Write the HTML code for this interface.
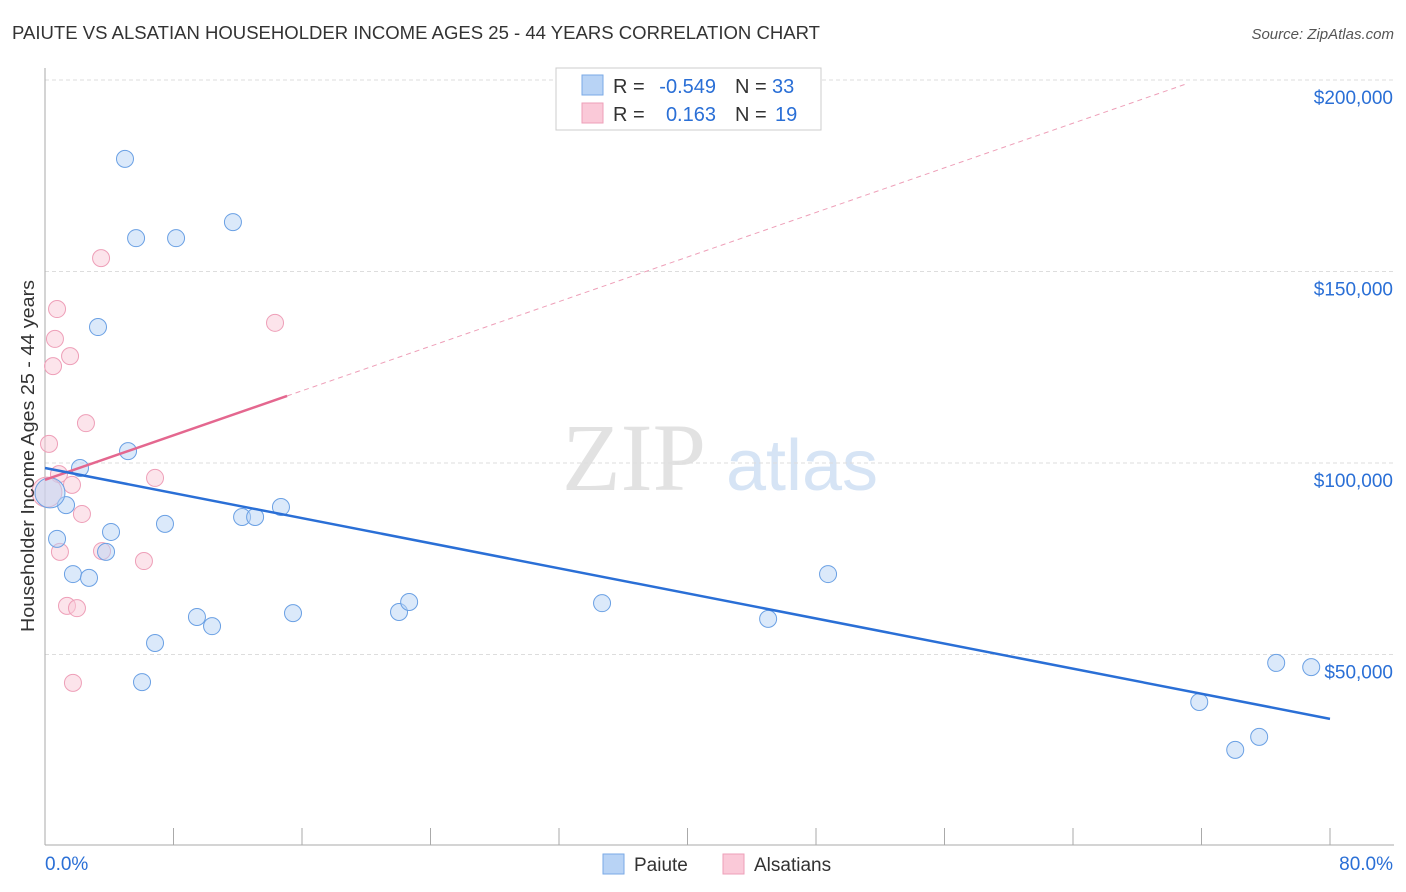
<!DOCTYPE html>
<html><head><meta charset="utf-8"><style>
body{margin:0;background:#fff;font-family:"Liberation Sans",sans-serif;}
</style></head><body>
<svg id="chart" width="1406" height="892" xmlns="http://www.w3.org/2000/svg" style="display:block">
<text x="12" y="39" font-size="18" fill="#333" textLength="808" lengthAdjust="spacingAndGlyphs">PAIUTE VS ALSATIAN HOUSEHOLDER INCOME AGES 25 - 44 YEARS CORRELATION CHART</text>
<text x="1394" y="39" font-size="15" fill="#555" text-anchor="end" font-style="italic">Source: ZipAtlas.com</text>
<g>
<text x="634" y="490" font-size="96" fill="#e2e2e2" font-family="Liberation Serif, serif" text-anchor="middle">ZIP</text>
<text x="802" y="490" font-size="72" fill="#d6e4f5" text-anchor="middle">atlas</text>
</g>
<g id="grid"></g>
<g id="axes"></g>
<g id="marks"></g>
<g>
<rect x="556" y="68" width="265" height="62" fill="#fff" stroke="#ccc"/>
<rect x="582" y="75" width="21" height="20" fill="#b8d3f5" stroke="#7aa9e6"/>
<rect x="582" y="103" width="21" height="20" fill="#fac9d8" stroke="#ee9fb8"/>
<text x="613" y="93" font-size="20" fill="#333">R =</text>
<text x="716" y="93" font-size="20" fill="#2a6fd6" text-anchor="end">-0.549</text>
<text x="735" y="93" font-size="20" fill="#333">N =</text>
<text x="772" y="93" font-size="20" fill="#2a6fd6">33</text>
<text x="613" y="121" font-size="20" fill="#333">R =</text>
<text x="716" y="121" font-size="20" fill="#2a6fd6" text-anchor="end">0.163</text>
<text x="735" y="121" font-size="20" fill="#333">N =</text>
<text x="775" y="121" font-size="20" fill="#2a6fd6">19</text>
</g>
<g>
<rect x="603" y="854" width="21" height="20" fill="#b8d3f5" stroke="#7aa9e6"/>
<text x="634" y="871" font-size="19" fill="#333">Paiute</text>
<rect x="723" y="854" width="21" height="20" fill="#fac9d8" stroke="#ee9fb8"/>
<text x="754" y="871" font-size="19" fill="#333">Alsatians</text>
</g>
<text transform="translate(34,456) rotate(-90)" font-size="18" fill="#333" text-anchor="middle" textLength="352" lengthAdjust="spacingAndGlyphs">Householder Income Ages 25 - 44 years</text>
</svg>
<script>
const yTicks=[50000,100000,150000,200000];
const yTickLabels=["$50,000","$100,000","$150,000","$200,000"];
const blueX=[4.98,5.67,8.16,11.7,3.3,5.17,2.18,1.31,0.31,0.75,4.11,3.8,1.74,2.74,7.47,12.27,13.08,14.69,6.85,6.04,9.46,10.4,15.44,22.04,22.67,34.68,45.02,48.75,71.86,74.1,75.59,76.65,78.83];
const blueY=[179400,158700,158700,162900,135500,103100,98700,89000,92200,80200,82000,76800,71000,70000,84100,85900,85900,88500,53000,42800,59800,57400,60800,61100,63700,63400,59300,71000,37600,25100,28500,47800,46700];
const pinkX=[3.49,0.75,0.62,1.56,0.5,14.32,2.55,0.25,0.87,6.85,1.68,0.12,2.3,0.93,3.55,6.16,1.37,1.99,1.74];
const pinkY=[153500,140200,132400,127900,125300,136600,110400,105000,97100,96100,94300,92400,86700,76800,77000,74400,62700,62100,42600];
const blueTrend=[[0,98700],[80,33200]];
const pinkSolid=[[0,95600],[15.07,117500]];
const pinkDash=[[15.07,117500],[71,198900]];
const NS="http://www.w3.org/2000/svg";
function xs(p){return 45+p*(1330-45)/80;}
function ys(v){return 463-(v-100000)*191.5/50000;}
function mk(t,a,parent){const e=document.createElementNS(NS,t);for(const k in a)e.setAttribute(k,a[k]);parent.appendChild(e);return e;}
const grid=document.getElementById('grid'),axes=document.getElementById('axes'),marks=document.getElementById('marks');
yTicks.forEach((v,i)=>{
const l=mk('line',{x1:45,x2:1394,y1:ys(v),y2:ys(v),stroke:'#ddd','stroke-dasharray':'4 3'},grid);


const t=mk('text',{x:1393,y:ys(v)+24,'font-size':19,fill:'#2a6fd6','text-anchor':'end'},axes);
t.textContent=yTickLabels[i];


});
const xa=mk('line',{x1:45,x2:1394,y1:845,y2:845,stroke:'#aaa'},axes);


const ya=mk('line',{x1:45,x2:45,y1:68,y2:845,stroke:'#aaa'},axes);


for(let p=0;p<=80;p+=8){const t=mk('line',{x1:xs(p),x2:xs(p),y1:828,y2:845,stroke:'#aaa'},axes);

}
[['0.0%',45,'start'],['80.0%',1393,'end']].forEach(a=>{const t=mk('text',{x:a[1],y:870,'font-size':19,fill:'#2a6fd6','text-anchor':a[2]},axes);t.textContent=a[0];

});
function pts(X,Y,fill,stroke,name){X.forEach((x,i)=>{const big=x<0.5&&Y[i]>90000&&Y[i]<94000;
const c=mk('circle',{cx:xs(x),cy:ys(Y[i]),r:big?15:8.5,fill:fill,'fill-opacity':0.5,stroke:stroke,'stroke-width':1},marks);

});}
pts(pinkX,pinkY,'#fac9d8','#ee9fb8','alsatians-point');
pts(blueX,blueY,'#b8d3f5','#6aa0e4','paiute-point');
function ln(a,st,w,dash,name){const e=mk('line',{x1:xs(a[0][0]),y1:ys(a[0][1]),x2:xs(a[1][0]),y2:ys(a[1][1]),stroke:st,'stroke-width':w},marks);if(dash)e.setAttribute('stroke-dasharray',dash);

}
ln(pinkDash,'#ee9fb8',1,'5 4','alsatians-trend-extension');
ln(pinkSolid,'#e4678f',2.5,null,'alsatians-trend-line');
ln(blueTrend,'#2a6fd6',2.5,null,'paiute-trend-line');
</script>
</body></html>
